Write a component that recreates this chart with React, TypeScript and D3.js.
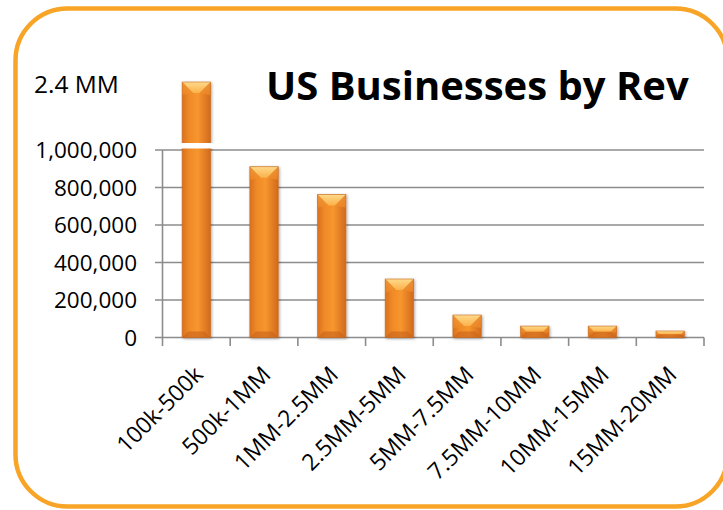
import React from "react";
import * as d3 from "d3";

const categories = ["100k-500k", "500k-1MM", "1MM-2.5MM", "2.5MM-5MM", "5MM-7.5MM", "7.5MM-10MM", "10MM-15MM", "15MM-20MM"];
const businesses = [2400000, 911000, 763000, 312000, 120000, 61000, 61000, 35000];
const yTicks = [0, 200000, 400000, 600000, 800000, 1000000];
const breakLabel = "2.4 MM";
const title = "US Businesses by Rev";

const W = 723;
const H = 510;
const FONT = "'Open Sans', 'Noto Sans', sans-serif";

export default function App() {
  const x = d3.scaleBand<string>().domain(categories).range([162.5, 704]).paddingInner(0).paddingOuter(0);
  // broken axis: 0..1M on the linear part, then compressed up to the max value
  const y = d3.scaleLinear().domain([0, 1000000, 2400000]).range([337.5, 150, 82]);
  const barW = x.bandwidth() * 0.42;
  const fmt = d3.format(",");
  const gapTop = y(1000000) - 7;
  const gapBot = y(1000000) - 1.5;

  return (
    <svg width={W} height={H} style={{ position: "absolute", left: 0, top: 0 }}>
      <defs>
        <linearGradient id="body" x1="0" x2="1" y1="0" y2="0">
          <stop offset="0" stopColor="#D9711F" />
          <stop offset="0.25" stopColor="#F08A28" />
          <stop offset="0.55" stopColor="#F7962E" />
          <stop offset="1" stopColor="#D2691C" />
        </linearGradient>
        <linearGradient id="topf" x1="0" x2="0" y1="0" y2="1">
          <stop offset="0" stopColor="#FFD98A" />
          <stop offset="1" stopColor="#FBB24A" />
        </linearGradient>
        <linearGradient id="side" x1="0" x2="0" y1="0" y2="1">
          <stop offset="0" stopColor="#F5A03C" />
          <stop offset="1" stopColor="#EE8A2A" />
        </linearGradient>
        <filter id="sh" x="-30%" y="-10%" width="160%" height="130%">
          <feGaussianBlur in="SourceAlpha" stdDeviation="1.5" />
          <feOffset dx="1" dy="1" result="b" />
          <feComponentTransfer><feFuncA type="linear" slope="0.35" /></feComponentTransfer>
          <feMerge><feMergeNode /><feMergeNode in="SourceGraphic" /></feMerge>
        </filter>
      </defs>
      <rect x={0} y={0} width={W} height={H} fill="#fff" />
      <rect x={15.5} y={8.5} width={712} height={498} rx={52} ry={52} fill="#fff" stroke="#F8A426" strokeWidth={4.5} />

      {/* gridlines */}
      {yTicks.map((t) => (
        <line key={t} x1={155} x2={704} y1={y(t)} y2={y(t)} stroke="#8C8C8C" strokeWidth={1.6} />
      ))}
      <line x1={162.5} x2={162.5} y1={y(1000000)} y2={346} stroke="#8C8C8C" strokeWidth={1.6} />
      {categories.map((c) => (
        <line key={c} x1={(x(c) as number) + x.bandwidth()} x2={(x(c) as number) + x.bandwidth()} y1={y(0)} y2={346} stroke="#8C8C8C" strokeWidth={1.6} />
      ))}

      {/* y labels */}
      {yTicks.map((t) => (
        <text key={t} x={137} y={y(t)} dy="0.36em" textAnchor="end" fontFamily={FONT} fontSize={22.5} fill="#000">
          {fmt(t)}
        </text>
      ))}
      <text x={34} y={93} fontFamily={FONT} fontSize={24.5} fill="#000">{breakLabel}</text>

      {/* bars */}
      {categories.map((c, i) => {
        const v = businesses[i];
        const bx = (x(c) as number) + (x.bandwidth() - barW) / 2;
        const top = y(v);
        const bot = y(0);
        const h = bot - top;
        const b = Math.min(barW / 2, h / 2, 11);
        const bb = Math.min(barW / 2, h / 2, 6);
        return (
          <g key={c} filter="url(#sh)">
            <rect x={bx} y={top} width={barW} height={h} fill="url(#body)" />
            <polygon points={`${bx},${top} ${bx + barW},${top} ${bx + barW - b},${top + b} ${bx + b},${top + b}`} fill="url(#topf)" />
            <polygon points={`${bx},${top} ${bx + b},${top + b} ${bx},${top + b * 1.2}`} fill="url(#side)" opacity={0.7} />
            <polygon points={`${bx + barW},${top} ${bx + barW - b},${top + b} ${bx + barW},${top + b * 1.2}`} fill="url(#side)" opacity={0.7} />
            <polygon points={`${bx},${bot} ${bx + barW},${bot} ${bx + barW - bb},${bot - bb} ${bx + bb},${bot - bb}`} fill="#C8631A" opacity={0.6} />
            <rect x={bx} y={top} width={barW} height={h} fill="none" stroke="#C56A1E" strokeWidth={0.8} opacity={0.7} />
          </g>
        );
      })}
      {/* axis break gap */}
      <rect x={(x(categories[0]) as number) + 10} y={gapTop} width={x.bandwidth() - 20} height={gapBot - gapTop} fill="#fff" />

      {/* x labels */}
      {categories.map((c) => {
        const cx = (x(c) as number) + x.bandwidth() / 2 + 8;
        const cy = 376;
        return (
          <text key={c} x={cx} y={cy} textAnchor="end" transform={`rotate(-45 ${cx} ${cy})`} fontFamily={FONT} fontSize={23} fill="#000">
            {c}
          </text>
        );
      })}

      <text x={266} y={100} fontFamily={FONT} fontWeight={700} fontSize={40} fill="#000">{title}</text>
    </svg>
  );
}
